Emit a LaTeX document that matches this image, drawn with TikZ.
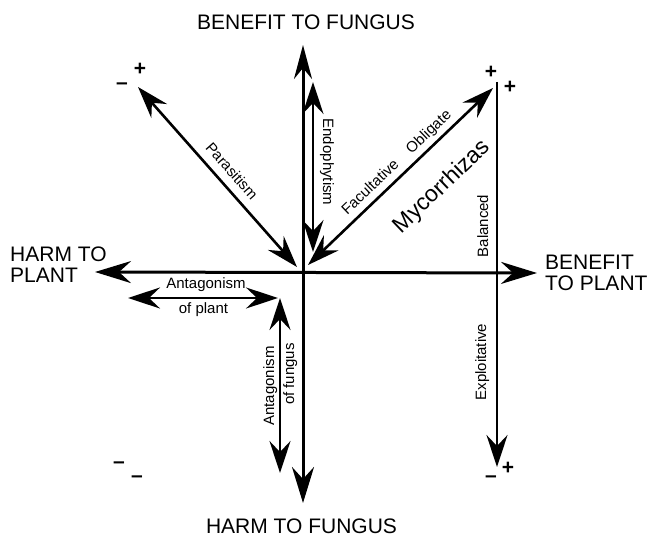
\documentclass[tikz,border=0pt]{standalone}
\usepackage{fontspec}
\setmainfont{Liberation Sans}
\usetikzlibrary{arrows.meta}
\begin{document}
\begin{tikzpicture}[x=1pt,y=-1pt,
  axis/.style={line width=3pt},
  rel/.style={line width=2.6pt},
  bigtip/.tip={Stealth[length=36pt,width=22pt,inset=12pt]},
  nartip/.tip={Stealth[length=34pt,width=18pt,inset=11pt]},
  smtip/.tip={Stealth[length=32pt,width=21pt,inset=11pt]},
  big/.style={font=\fontsize{21}{21}\selectfont, inner sep=0pt},
  lbl/.style={font=\fontsize{15}{15}\selectfont, inner sep=0pt},
  myc/.style={font=\fontsize{23}{23}\selectfont, inner sep=0pt},
  sgn/.style={font=\fontsize{21}{21}\selectfont\bfseries, inner sep=0pt}]
\useasboundingbox (0,0) rectangle (650,537);

% coordinates
\coordinate (O) at (303,273);
\coordinate (T) at (303,45);
\coordinate (B) at (303,503);
\coordinate (L) at (95,272);
\coordinate (R) at (537,273);
\coordinate (P1) at (138,87);
\coordinate (P2) at (297,267);
\coordinate (E1) at (313,82);
\coordinate (E2) at (313,252);
\coordinate (M1) at (308,265);
\coordinate (M2) at (493,88);
\coordinate (Bt) at (497,82);
\coordinate (Bb) at (497,467);
\coordinate (AP1) at (128,298);
\coordinate (AP2) at (278,298);
\coordinate (AF1) at (280,298);
\coordinate (AF2) at (280,473);

% axes
\draw[axis, {bigtip}-{bigtip}] (L) -- (R);
\draw[axis, -{nartip}] (O) -- (T);
\draw[axis, -{bigtip}] (O) -- (B);

% relations
\draw[rel, {smtip}-{smtip}] (P1) -- (P2);
\draw[rel, {smtip}-{smtip}] (E1) -- (E2);
\draw[rel, {smtip}-{smtip}] (M1) -- (M2);
\draw[rel, -{smtip}] (Bt) -- (Bb);
\draw[rel, {smtip}-{smtip}] (AP1) -- (AP2);
\draw[rel, {smtip}-{smtip}] (AF1) -- (AF2);

% axis labels
\node[big, anchor=base] (bf) at (306,30) {BENEFIT TO FUNGUS};
\node[big, anchor=base] (hf) at (301.5,533) {HARM TO FUNGUS};
\node[big, anchor=north west, align=left] (hp) at (10,247) {HARM TO\\PLANT};
\node[big, anchor=north west, align=left] (bp) at (545,255) {BENEFIT\\TO PLANT};

% relation labels
\node[lbl, anchor=base] (apl1) at (206,288) {Antagonism};
\node[lbl, anchor=base] (apl2) at (203.5,313) {of plant};
\node[lbl, rotate=90, anchor=base] (afu1) at (274,386) {Antagonism};
\node[lbl, rotate=90, anchor=base] (afu2) at (294,374) {of fungus};
\node[lbl, rotate=-90, anchor=base] (endo) at (323,162) {Endophytism};
\node[lbl, rotate=90, anchor=base] (bal) at (488,226) {Balanced};
\node[lbl, rotate=90, anchor=base] (expl) at (486,362) {Exploitative};
\node[lbl, rotate=-48.5] (par) at (232,171) {Parasitism};
\node[lbl, rotate=43.7] (fo) at (397,163) {Facultative\hspace{1.1em}Obligate};
\node[myc, rotate=43.7] (mycl) at (442,187) {Mycorrhizas};

% signs
\node[sgn] (s1) at (122,86) {–};
\node[sgn] (s2) at (140,69) {+};
\node[sgn] (s3) at (491,72) {+};
\node[sgn] (s4) at (510,87) {+};
\node[sgn] (s5) at (491,479) {–};
\node[sgn] (s6) at (508,468) {+};
\node[sgn] (s7) at (119,465) {–};
\node[sgn] (s8) at (137,479) {–};
\end{tikzpicture}
\end{document}
